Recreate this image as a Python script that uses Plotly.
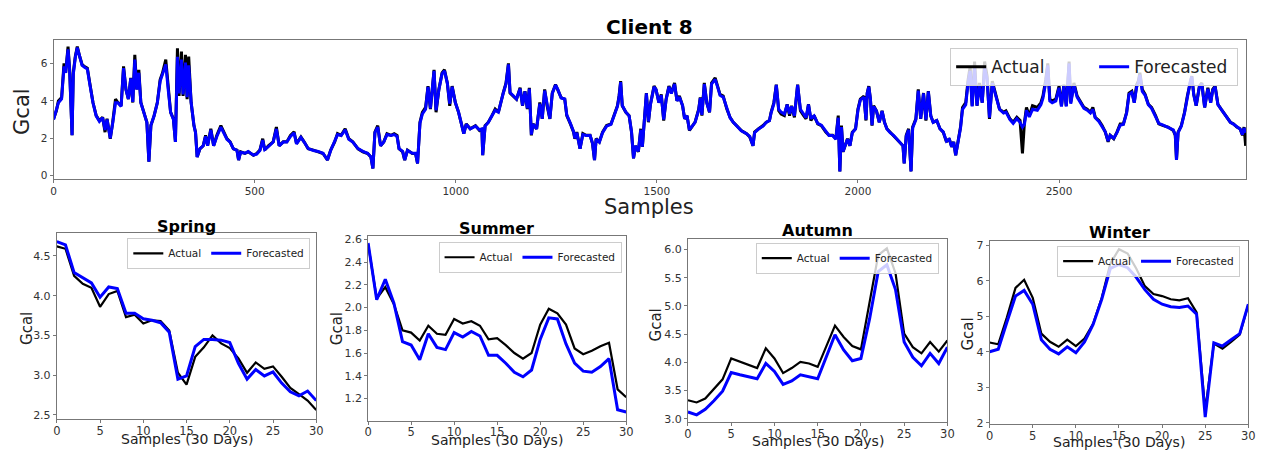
import plotly.graph_objects as go

W, H = 1261, 455
FONT = "DejaVu Sans"
TICKC = "#333333"
FRAME = "#777777"

# ---------------- top panel data (Client 8) ----------------
top_samples = [
    0, 7, 12, 20, 26, 30, 36, 40, 46, 49,
    54, 59, 65, 71, 77, 84, 90, 98, 106, 114,
    122, 128, 133, 141, 147, 154, 160, 168, 174, 180,
    186, 192, 197, 202, 207, 212, 217, 224, 232, 237,
    242, 250, 258, 265, 271, 279, 285, 291, 298, 303,
    308, 312, 318, 322, 328, 332, 336, 342, 349, 353,
    357, 364, 372, 378, 383, 391, 398, 406, 416, 423,
    431, 439, 447, 456, 460, 465, 476, 484, 497, 505,
    513, 520, 525, 534, 546, 554, 561, 571, 580, 589,
    598, 604, 615, 623, 633, 646, 658, 670, 681, 689,
    699, 706, 715, 725, 734, 744, 757, 769, 781, 789,
    794, 799, 806, 813, 821, 829, 839, 847, 854, 859,
    868, 873, 880, 892, 900, 905, 911, 917, 925, 931,
    937, 946, 951, 958, 966, 972, 979, 985, 991, 999,
    1007, 1016, 1020, 1026, 1036, 1049, 1059, 1065, 1067, 1073,
    1081, 1090, 1098, 1106, 1112, 1118, 1125, 1131, 1135, 1143,
    1151, 1160, 1166, 1172, 1178, 1183, 1188, 1192, 1201, 1209,
    1215, 1221, 1227, 1234, 1240, 1248, 1254, 1262, 1271, 1276,
    1285, 1293, 1296, 1301, 1309, 1316, 1324, 1334, 1340, 1345,
    1349, 1357, 1365, 1375, 1386, 1394, 1402, 1406, 1410, 1414,
    1423, 1431, 1437, 1442, 1447, 1454, 1460, 1464, 1468, 1474,
    1479, 1484, 1493, 1498, 1505, 1511, 1517, 1523, 1530, 1536,
    1544, 1550, 1556, 1564, 1569, 1575, 1581, 1587, 1595, 1604,
    1608, 1612, 1618, 1624, 1631, 1636, 1645, 1651, 1657, 1665,
    1674, 1682, 1690, 1698, 1710, 1723, 1731, 1739, 1743, 1753,
    1764, 1772, 1780, 1784, 1791, 1797, 1803, 1809, 1817, 1824,
    1830, 1835, 1842, 1850, 1857, 1865, 1871, 1877, 1883, 1891,
    1900, 1909, 1920, 1928, 1937, 1945, 1951, 1955, 1959, 1963,
    1968, 1974, 1980, 1986, 1994, 2000, 2006, 2015, 2020, 2023,
    2027, 2031, 2035, 2039, 2046, 2053, 2060, 2066, 2072, 2080,
    2089, 2097, 2105, 2112, 2115, 2120, 2126, 2132, 2136, 2144,
    2150, 2156, 2163, 2169, 2175, 2181, 2187, 2196, 2204, 2212,
    2220, 2227, 2233, 2238, 2243, 2249, 2255, 2260, 2268, 2274,
    2279, 2284, 2290, 2296, 2302, 2309, 2315, 2321, 2327, 2334,
    2342, 2352, 2362, 2368, 2378, 2386, 2395, 2403, 2409, 2414,
    2419, 2426, 2434, 2446, 2455, 2460, 2467, 2472, 2477, 2483,
    2492, 2500, 2506, 2512, 2518, 2525, 2529, 2537, 2545, 2553,
    2562, 2570, 2578, 2584, 2590, 2599, 2607, 2615, 2622, 2627,
    2636, 2644, 2652, 2660, 2668, 2674, 2681, 2687, 2693, 2697,
    2701, 2707, 2714, 2722, 2730, 2740, 2748, 2759, 2771, 2784,
    2789, 2792, 2796, 2804, 2812, 2819, 2826, 2830, 2835, 2841,
    2849, 2855, 2862, 2870, 2877, 2882, 2888, 2895, 2903, 2909,
    2918, 2926, 2934, 2942, 2950, 2956, 2960, 2964,
]
top_actual = [
    3.04, 3.47, 4.0, 4.18, 6.0, 5.5, 6.9, 5.66, 2.16, 5.5,
    6.37, 6.9, 6.37, 5.93, 5.84, 5.75, 4.96, 3.91, 3.21, 2.95,
    3.12, 2.33, 3.04, 1.98, 2.86, 4.09, 3.91, 3.74, 5.84, 4.61,
    4.09, 5.23, 3.91, 6.46, 4.61, 5.66, 3.91, 3.39, 2.86, 0.75,
    2.68, 3.21, 3.91, 5.14, 5.5, 6.2, 4.61, 3.39, 3.04, 1.81,
    6.81, 4.26, 6.64, 4.26, 6.46, 4.09, 6.37, 3.91, 2.68, 2.33,
    1.0, 1.44, 1.6, 2.16, 1.6, 2.51, 1.6, 2.16, 2.68, 2.33,
    1.98, 1.81, 1.44, 1.37, 0.84, 1.28, 1.19, 1.28, 1.1, 1.19,
    1.37, 1.98, 1.37, 1.6, 1.81, 2.6, 1.6, 1.81, 1.81, 2.16,
    2.35, 1.72, 2.07, 1.81, 1.44, 1.37, 1.28, 1.19, 0.84, 1.37,
    1.81, 2.25, 2.16, 2.51, 1.98, 1.81, 1.44, 1.28, 1.19, 1.0,
    0.39, 2.33, 2.68, 1.6, 1.81, 2.25, 2.16, 2.25, 2.16, 1.44,
    1.28, 0.84, 1.37, 1.19, 1.19, 0.66, 2.86, 3.39, 3.65, 4.79,
    3.56, 5.66, 3.39, 4.61, 5.5, 5.66, 4.96, 3.74, 4.79, 3.91,
    3.39, 2.68, 2.25, 2.77, 2.51, 2.68, 2.42, 2.51, 1.1, 2.68,
    2.86, 3.21, 3.56, 3.39, 3.98, 4.42, 4.96, 6.0, 4.42, 4.26,
    4.09, 4.7, 3.74, 4.52, 3.56, 4.7, 2.16, 2.77, 2.51, 3.91,
    3.04, 4.61, 3.74, 3.04, 4.42, 4.87, 4.61, 4.18, 4.09, 3.21,
    2.77, 2.33, 1.98, 2.33, 1.44, 2.25, 2.16, 2.16, 1.72, 0.84,
    1.98, 1.81, 2.33, 2.68, 2.77, 3.21, 3.74, 4.26, 5.05, 3.74,
    3.39, 3.21, 2.33, 0.93, 1.6, 1.28, 2.51, 1.54, 2.86, 4.42,
    2.86, 3.82, 4.79, 4.61, 3.91, 4.35, 2.95, 4.09, 4.79, 4.42,
    4.96, 4.0, 4.26, 3.74, 3.04, 3.21, 2.42, 2.6, 2.86, 3.56,
    4.18, 3.21, 4.96, 3.91, 3.39, 4.96, 5.23, 4.79, 4.35, 4.26,
    3.56, 3.12, 2.86, 2.68, 2.42, 2.25, 2.07, 1.6, 2.33, 2.51,
    2.68, 2.86, 2.95, 3.39, 3.91, 4.87, 3.47, 3.3, 3.21, 3.82,
    3.21, 3.74, 3.12, 4.87, 3.47, 3.21, 3.04, 3.82, 2.95, 3.21,
    2.77, 2.68, 2.33, 2.16, 2.16, 1.98, 3.21, 0.23, 2.68, 1.28,
    1.6, 1.98, 1.6, 2.33, 2.51, 3.56, 4.09, 4.26, 2.95, 4.42,
    4.79, 4.09, 2.68, 3.74, 3.47, 2.86, 3.47, 2.86, 2.51, 2.33,
    2.16, 1.98, 1.81, 1.6, 0.66, 2.16, 2.51, 0.23, 2.6, 3.04,
    4.61, 3.04, 4.42, 2.95, 4.52, 3.21, 2.86, 2.95, 2.51, 2.33,
    1.81, 1.98, 1.54, 1.81, 1.1, 1.81, 2.6, 3.65, 3.91, 5.14,
    5.84, 3.74, 6.1, 3.74, 4.96, 3.91, 6.1, 5.32, 3.04, 5.05,
    4.42, 3.56, 3.39, 3.47, 3.04, 2.86, 3.12, 2.95, 1.19, 2.86,
    3.65, 3.21, 3.74, 3.65, 3.91, 4.26, 5.14, 6.0, 4.09, 4.0,
    4.09, 4.79, 3.74, 4.87, 3.74, 6.1, 3.91, 4.96, 4.26, 4.0,
    3.65, 3.56, 3.39, 3.65, 3.12, 2.95, 2.68, 2.33, 1.81, 2.16,
    1.98, 2.33, 2.77, 2.77, 3.39, 4.42, 4.52, 3.91, 4.87, 5.05,
    5.5, 4.61, 4.35, 3.82, 3.65, 3.21, 2.77, 2.68, 2.6, 2.42,
    2.16, 0.84, 2.33, 2.68, 3.39, 4.26, 5.05, 5.32, 4.35, 3.74,
    4.79, 4.96, 3.65, 4.7, 3.91, 4.61, 4.79, 3.82, 3.56, 3.39,
    3.12, 2.86, 2.77, 2.6, 2.51, 2.16, 2.6, 1.6,
]
top_forecast = [
    3.0, 3.5, 3.9, 4.1, 5.85, 5.5, 6.75, 5.6, 2.16, 5.4,
    6.3, 6.85, 6.35, 5.9, 5.8, 5.7, 4.9, 3.9, 3.2, 2.9,
    3.1, 2.45, 3.0, 2.0, 2.8, 3.9, 3.9, 3.7, 5.75, 4.6,
    4.1, 5.2, 3.95, 6.2, 4.6, 5.5, 3.9, 3.4, 2.85, 0.75,
    2.7, 3.2, 3.9, 5.05, 5.4, 5.95, 4.6, 3.4, 3.0, 1.81,
    6.35, 4.4, 6.2, 4.35, 6.05, 4.2, 5.9, 3.95, 2.7, 2.3,
    1.0, 1.45, 1.6, 2.1, 1.6, 2.45, 1.6, 2.1, 2.6, 2.3,
    1.95, 1.8, 1.45, 1.35, 0.84, 1.25, 1.2, 1.3, 1.1, 1.15,
    1.35, 1.9, 1.4, 1.55, 1.8, 2.5, 1.6, 1.8, 1.8, 2.1,
    2.3, 1.7, 2.05, 1.8, 1.45, 1.35, 1.3, 1.2, 0.84, 1.35,
    1.8, 2.2, 2.15, 2.45, 1.95, 1.8, 1.45, 1.3, 1.2, 1.0,
    0.39, 2.3, 2.6, 1.6, 1.8, 2.2, 2.15, 2.2, 2.1, 1.45,
    1.3, 0.84, 1.35, 1.2, 1.2, 0.66, 2.8, 3.3, 3.55, 4.75,
    3.6, 5.6, 3.5, 4.6, 5.45, 5.6, 4.95, 3.85, 4.75, 3.9,
    3.4, 2.7, 2.25, 2.75, 2.5, 2.65, 2.45, 2.5, 1.1, 2.65,
    2.85, 3.2, 3.5, 3.4, 3.95, 4.4, 4.9, 5.95, 4.45, 4.25,
    4.1, 4.65, 3.75, 4.5, 3.6, 4.65, 2.2, 2.75, 2.5, 3.85,
    3.05, 4.55, 3.75, 3.05, 4.4, 4.85, 4.6, 4.15, 4.1, 3.25,
    2.8, 2.35, 2.0, 2.3, 1.45, 2.2, 2.15, 2.15, 1.75, 0.84,
    1.95, 1.8, 2.3, 2.65, 2.75, 3.2, 3.7, 4.2, 5.0, 3.75,
    3.4, 3.2, 2.35, 0.93, 1.6, 1.3, 2.45, 1.55, 2.8, 4.4,
    2.9, 3.8, 4.75, 4.6, 3.9, 4.3, 3.0, 4.05, 4.75, 4.4,
    4.9, 4.0, 4.2, 3.75, 3.05, 3.2, 2.45, 2.6, 2.85, 3.5,
    4.15, 3.25, 4.9, 3.9, 3.4, 4.9, 5.15, 4.75, 4.3, 4.2,
    3.55, 3.1, 2.85, 2.65, 2.4, 2.25, 2.1, 1.6, 2.3, 2.5,
    2.65, 2.85, 2.95, 3.35, 3.85, 4.85, 3.55, 3.4, 3.3, 3.8,
    3.3, 3.7, 3.2, 4.85, 3.55, 3.3, 3.1, 3.8, 3.05, 3.2,
    2.8, 2.7, 2.35, 2.15, 2.15, 1.95, 3.1, 0.23, 2.6, 1.3,
    1.6, 1.95, 1.6, 2.3, 2.5, 3.5, 4.05, 4.2, 3.0, 4.4,
    4.75, 4.1, 2.7, 3.7, 3.45, 2.85, 3.45, 2.85, 2.5, 2.3,
    2.15, 1.95, 1.8, 1.6, 0.66, 2.1, 2.45, 0.23, 2.55, 3.0,
    4.55, 3.05, 4.4, 3.0, 4.5, 3.2, 2.85, 2.95, 2.5, 2.35,
    1.85, 1.95, 1.55, 1.8, 1.1, 1.8, 2.55, 3.55, 3.8, 5.0,
    5.6, 3.7, 5.75, 3.75, 4.85, 3.9, 5.75, 5.2, 3.1, 4.95,
    4.35, 3.55, 3.35, 3.4, 3.0, 2.8, 3.05, 2.85, 2.6, 2.75,
    3.5, 3.15, 3.55, 3.5, 3.8, 4.15, 5.0, 5.9, 4.0, 3.9,
    4.0, 4.7, 3.7, 4.8, 3.7, 6.0, 3.85, 4.85, 4.2, 3.95,
    3.6, 3.5, 3.35, 3.55, 3.1, 2.9, 2.65, 2.35, 1.85, 2.15,
    2.0, 2.3, 2.7, 2.75, 3.35, 4.35, 4.45, 3.9, 4.75, 4.95,
    5.4, 4.5, 4.3, 3.8, 3.6, 3.2, 2.8, 2.7, 2.6, 2.45,
    2.2, 0.84, 2.3, 2.65, 3.35, 4.2, 5.0, 5.3, 4.3, 3.75,
    4.75, 4.9, 3.65, 4.65, 3.9, 4.55, 4.75, 3.8, 3.55, 3.35,
    3.1, 2.85, 2.75, 2.6, 2.5, 2.2, 2.55, 2.3,
]
assert len(top_samples) == len(top_actual) == len(top_forecast)

# ---------------- seasonal panels (30 days) ----------------
days = list(range(31))
spring_actual = [4.62, 4.59, 4.25, 4.15, 4.10, 3.86, 4.02, 4.06, 3.73, 3.76, 3.65, 3.69, 3.68, 3.56, 3.03, 2.88,
                 3.23, 3.35, 3.50, 3.40, 3.34, 3.21, 3.03, 3.16, 3.08, 3.11, 2.98, 2.84, 2.76, 2.68, 2.56]
spring_forecast = [4.68, 4.64, 4.29, 4.22, 4.16, 3.98, 4.11, 4.09, 3.78, 3.78, 3.71, 3.69, 3.66, 3.54, 2.95, 2.99,
                   3.36, 3.45, 3.45, 3.44, 3.41, 3.15, 2.95, 3.07, 2.99, 3.04, 2.90, 2.79, 2.74, 2.80, 2.68]
summer_actual = [2.56, 2.08, 2.18, 2.03, 1.80, 1.78, 1.71, 1.84, 1.77, 1.76, 1.90, 1.86, 1.88, 1.84, 1.72, 1.73,
                 1.67, 1.60, 1.55, 1.60, 1.85, 1.99, 1.95, 1.85, 1.64, 1.59, 1.62, 1.66, 1.69, 1.28, 1.21]
summer_forecast = [2.57, 2.07, 2.25, 2.04, 1.70, 1.67, 1.54, 1.77, 1.65, 1.63, 1.78, 1.74, 1.79, 1.75, 1.58, 1.58,
                   1.51, 1.43, 1.39, 1.45, 1.72, 1.91, 1.90, 1.68, 1.51, 1.44, 1.43, 1.48, 1.55, 1.10, 1.08]
autumn_actual = [3.33, 3.29, 3.36, 3.53, 3.70, 4.07, 4.01, 3.96, 3.90, 4.25, 4.07, 3.81, 3.90, 4.01, 3.98, 3.92,
                 4.30, 4.65, 4.45, 4.29, 4.23, 5.03, 5.90, 6.02, 5.58, 4.51, 4.27, 4.16, 4.36, 4.19, 4.39]
autumn_forecast = [3.12, 3.07, 3.17, 3.32, 3.49, 3.82, 3.78, 3.74, 3.71, 3.98, 3.84, 3.61, 3.67, 3.78, 3.74, 3.71,
                   4.10, 4.49, 4.22, 4.03, 4.07, 4.77, 5.61, 5.73, 5.29, 4.36, 4.09, 3.94, 4.16, 3.98, 4.27]
winter_actual = [4.26, 4.21, 4.97, 5.80, 6.03, 5.52, 4.51, 4.28, 4.14, 4.34, 4.16, 4.37, 4.79, 5.52, 6.49, 6.89,
                 6.77, 6.35, 5.85, 5.63, 5.57, 5.48, 5.45, 5.51, 5.11, 2.35, 4.23, 4.09, 4.28, 4.48, 5.34]
winter_forecast = [4.00, 4.07, 4.83, 5.57, 5.73, 5.34, 4.34, 4.07, 3.94, 4.14, 3.97, 4.28, 4.77, 5.48, 6.35, 6.46,
                   6.37, 6.10, 5.75, 5.48, 5.34, 5.27, 5.25, 5.29, 5.06, 2.16, 4.25, 4.16, 4.34, 4.51, 5.34]

season_names = ["Spring", "Summer", "Autumn", "Winter"]
season_actual = [spring_actual, summer_actual, autumn_actual, winter_actual]
season_forecast = [spring_forecast, summer_forecast, autumn_forecast, winter_forecast]
season_yticks = [[2.5, 3.0, 3.5, 4.0, 4.5],
                 [1.2, 1.4, 1.6, 1.8, 2.0, 2.2, 2.4, 2.6],
                 [3.0, 3.5, 4.0, 4.5, 5.0, 5.5, 6.0],
                 [2, 3, 4, 5, 6, 7]]
season_ytext = [["2.5", "3.0", "3.5", "4.0", "4.5"],
                ["1.2", "1.4", "1.6", "1.8", "2.0", "2.2", "2.4", "2.6"],
                ["3.0", "3.5", "4.0", "4.5", "5.0", "5.5", "6.0"],
                ["2", "3", "4", "5", "6", "7"]]
season_yrange = [[2.45, 4.79], [1.005, 2.63], [2.94, 6.19], [1.95, 7.13]]
day_ticks = [0, 5, 10, 15, 20, 25, 30]
top_xticks = [0, 500, 1000, 1500, 2000, 2500]
top_yticks = [0, 2, 4, 6]

# ---------------- layout geometry (pixels) ----------------
top_box = (50, 1253, 37.7, 178.7)  # left, right, top, bottom
season_boxes = [(53.3, 315, 234, 423.3), (367.3, 627.7, 237.3, 425),
                (690, 951.7, 240, 426.7), (994.3, 1255.3, 242, 429)]
season_title_pos = [(184, 228), (497, 230), (821, 232), (1125, 234)]
season_ylabel_pos = [(23, 331), (336, 332), (658, 328), (973, 337)]
season_xlabel_y = [444, 445, 446, 447]
season_legend_pos = [(309, 239), (623, 243), (943, 244), (1247, 247)]


def fx(p):
    return p / W


def fy(p):
    return 1 - p / H


def axis_style(**kw):
    d = dict(showline=True, mirror=True, linecolor=FRAME, linewidth=1, ticks="outside",
             ticklen=3, tickcolor=FRAME, showgrid=False, zeroline=False,
             tickfont=dict(family=FONT, size=11, color=TICKC))
    d.update(kw)
    return d


fig = go.Figure()
fig.add_trace(go.Scatter(x=top_samples, y=top_actual, mode="lines", name="Actual",
                         line=dict(color="black", width=3), xaxis="x", yaxis="y", legend="legend"))
fig.add_trace(go.Scatter(x=top_samples, y=top_forecast, mode="lines", name="Forecasted",
                         line=dict(color="blue", width=3), xaxis="x", yaxis="y", legend="legend"))

layout = dict(
    width=W, height=H, margin=dict(l=0, r=0, t=0, b=0),
    paper_bgcolor="white", plot_bgcolor="white", showlegend=True,
    font=dict(family=FONT, color="#222222"),
    xaxis=axis_style(domain=[fx(top_box[0]), fx(top_box[1])], range=[0, 2965], tickvals=top_xticks,
                     anchor="y", tickfont=dict(family=FONT, size=10.5, color=TICKC)),
    yaxis=axis_style(domain=[fy(top_box[3]), fy(top_box[2])], range=[-0.15, 7.25], tickvals=top_yticks,
                     anchor="x", tickfont=dict(family=FONT, size=10.5, color=TICKC)),
    legend=dict(x=fx(1245), y=fy(46), xanchor="right", yanchor="top", orientation="h",
                entrywidth=98, entrywidthmode="pixels",
                bgcolor="rgba(255,255,255,0.8)", bordercolor="#cccccc", borderwidth=1,
                font=dict(family=FONT, size=17, color="#222222")),
)

annotations = [
    dict(text="<b>Client 8</b>", x=fx(651), y=fy(24), font=dict(size=20, color="black")),
    dict(text="Samples", x=fx(651), y=fy(208), font=dict(size=21, color="#222222")),
    dict(text="Gcal", x=fx(18), y=fy(110), textangle=-90, font=dict(size=21, color="#222222")),
]

for i, name in enumerate(season_names):
    k = i + 2
    xa, ya, lg = f"x{k}", f"y{k}", f"legend{k}"
    fig.add_trace(go.Scatter(x=days, y=season_actual[i], mode="lines", name="Actual",
                             line=dict(color="black", width=2.2), xaxis=xa, yaxis=ya, legend=lg))
    fig.add_trace(go.Scatter(x=days, y=season_forecast[i], mode="lines", name="Forecasted",
                             line=dict(color="blue", width=3), xaxis=xa, yaxis=ya, legend=lg))
    l, r, t, b = season_boxes[i]
    layout[f"xaxis{k}"] = axis_style(domain=[fx(l), fx(r)], range=[0, 30], tickvals=day_ticks, anchor=ya,
                                     ticklabelstandoff=-2,
                                     tickfont=dict(family=FONT, size=11.5, color=TICKC))
    layout[f"yaxis{k}"] = axis_style(domain=[fy(b), fy(t)], range=season_yrange[i],
                                     tickvals=season_yticks[i], ticktext=season_ytext[i], anchor=xa,
                                     tickfont=dict(family=FONT, size=11, color=TICKC))
    lx, ly = season_legend_pos[i]
    layout[lg] = dict(x=fx(lx), y=fy(ly), xanchor="right", yanchor="top", orientation="h",
                      bgcolor="rgba(255,255,255,0.8)", bordercolor="#cccccc", borderwidth=1,
                      font=dict(family=FONT, size=10.5, color="#222222"))
    tx, ty = season_title_pos[i]
    annotations.append(dict(text=f"<b>{name}</b>", x=fx(tx), y=fy(ty), font=dict(size=16, color="black")))
    gx, gy = season_ylabel_pos[i]
    annotations.append(dict(text="Gcal", x=fx(gx), y=fy(gy), textangle=-90,
                            font=dict(size=15, color="#222222")))
    annotations.append(dict(text="Samples (30 Days)", x=fx((l + r) / 2), y=fy(season_xlabel_y[i]),
                            font=dict(size=14, color="#222222")))

for a in annotations:
    a.update(xref="paper", yref="paper", xanchor="center", yanchor="middle", showarrow=False)
    a["font"]["family"] = FONT

layout["annotations"] = annotations
fig.update_layout(**layout)
fig.write_html("out.html")
